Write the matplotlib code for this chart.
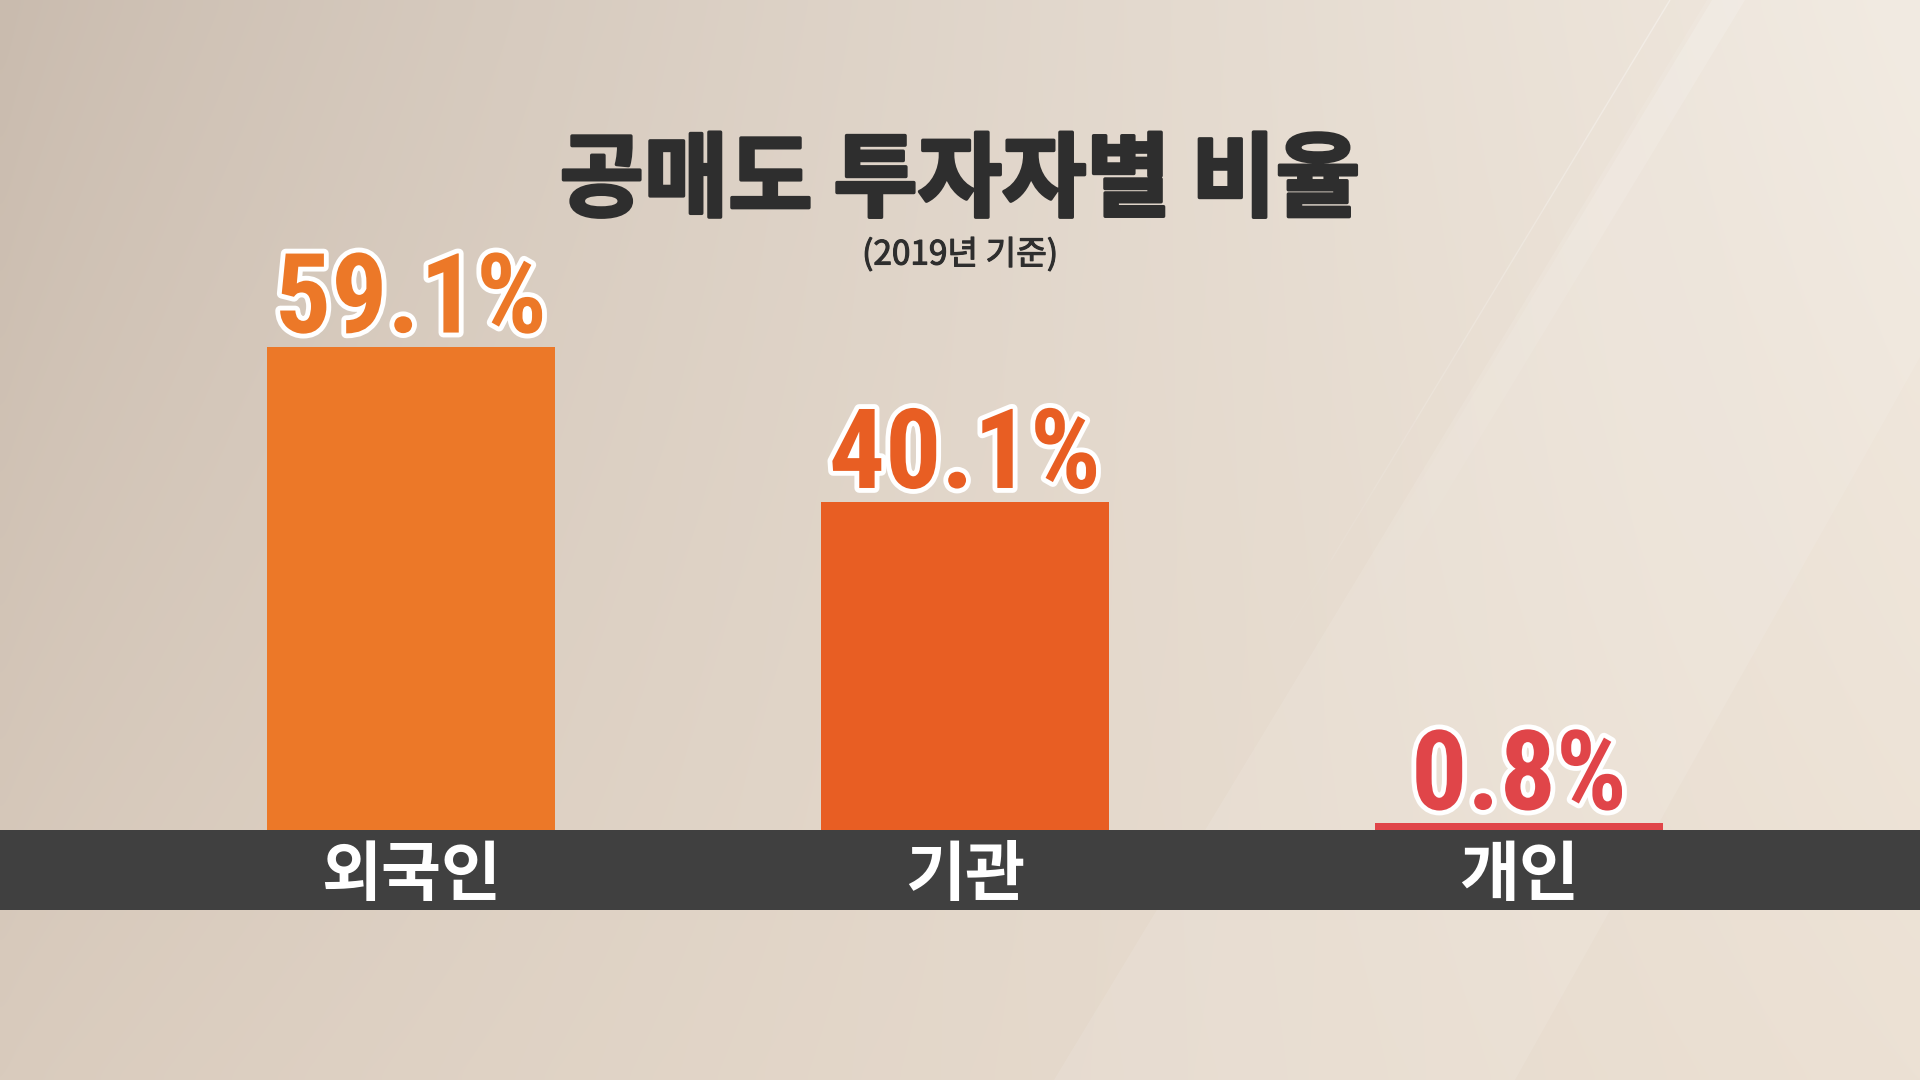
import numpy as np
import matplotlib
matplotlib.use("Agg")
import matplotlib.pyplot as plt
from matplotlib import font_manager
from matplotlib.patches import Polygon, Rectangle
import matplotlib.patheffects as pe

# ---- data ----
categories = ["외국인", "기관", "개인"]
shares = [59.1, 40.1, 0.8]
value_labels = ["59.1%", "40.1%", "0.8%"]
title_text = "공매도 투자자별 비율"
subtitle_text = "(2019년 기준)"

# ---- style ----
bar_colors = ["#EC7828", "#E85E23", "#E04549"]
band_color = "#404040"
title_color = "#2E2E2E"

W, H = 1920, 1080
plt.rcParams["font.family"] = ["Noto Sans CJK KR", "DejaVu Sans"]

available = {f.name for f in font_manager.fontManager.ttflist}
num_family = next((n for n in ["Roboto Condensed", "Liberation Sans Narrow"]
                   if n in available), "Noto Sans CJK KR")

fig = plt.figure(figsize=(W / 100, H / 100), dpi=100)

# ---- background: warm gradient with light diagonal streaks ----
bg = fig.add_axes([0, 0, 1, 1])
bg.set_xlim(0, W)
bg.set_ylim(H, 0)
bg.axis("off")

tl = np.array([201, 187, 174]) / 255
bl = np.array([217, 203, 189]) / 255
tr = np.array([241, 233, 223]) / 255
br = np.array([236, 225, 212]) / 255
gx = np.linspace(0, 1, 192)[None, :, None]
gy = np.linspace(0, 1, 108)[:, None, None]
gx_eased = gx ** 0.8
grad = (tl * (1 - gx_eased) * (1 - gy) + tr * gx_eased * (1 - gy)
        + bl * (1 - gx_eased) * gy + br * gx_eased * gy)
bg.imshow(grad, extent=(0, W, H, 0), aspect="auto", interpolation="bicubic", zorder=0)

# broad light wedge on the right
wedge = Polygon([(1707, 0), (W, 0), (W, 357), (1515, H), (1054, H)],
                closed=True, facecolor="white", alpha=0.10, edgecolor="none", zorder=1)
bg.add_patch(wedge)

# soft bright streak, fading as it runs down-left
slope = -0.605
for i, a in enumerate(np.linspace(0.16, 0.0, 12)):
    y0, y1 = i * 60, (i + 1) * 60
    pts = [(1712 + slope * y0, y0), (1745 + slope * y0, y0),
           (1745 + slope * y1, y1), (1712 + slope * y1, y1)]
    bg.add_patch(Polygon(pts, closed=True, facecolor="white", alpha=a,
                         edgecolor="none", zorder=1))

# thin highlight line
for i, a in enumerate(np.linspace(0.35, 0.0, 10)):
    y0, y1 = i * 70, (i + 1) * 70
    bg.plot([1670 + slope * y0, 1670 + slope * y1], [y0, y1],
            color="white", alpha=a, lw=1.0, zorder=1, solid_capstyle="butt")

# dark category band
bg.add_patch(Rectangle((0, 830), W, 80, facecolor=band_color, edgecolor="none", zorder=2))

# ---- titles ----
fig.text(0.5, 1 - 182 / H, title_text, ha="center", va="center",
         fontsize=66, fontweight="black", color=title_color,
         path_effects=[pe.withStroke(linewidth=2.5, foreground=title_color)])
fig.text(0.5, 1 - 255 / H, subtitle_text, ha="center", va="center",
         fontsize=24, fontweight="medium", color=title_color,
         path_effects=[pe.withStroke(linewidth=0.8, foreground=title_color)])

# ---- bars ----
px_per_unit = 8.18
ax = fig.add_axes([0, 250 / H, 1, 830 / H])
ax.patch.set_alpha(0)
x = np.arange(len(categories))
spacing = 554
ax.set_xlim(-411 / spacing, (W - 411) / spacing)
ax.set_ylim(0, 830 / px_per_unit)
ax.bar(x, shares, width=288 / spacing, color=bar_colors, zorder=3)
ax.axis("off")

for xi, v, lab, col in zip(x, shares, value_labels, bar_colors):
    ax.annotate(lab, xy=(xi, v), xytext=(0, 14), textcoords="offset pixels",
                ha="center", va="baseline", fontsize=80, fontweight="bold",
                family=[num_family, "DejaVu Sans"], color=col, zorder=4,
                path_effects=[pe.withStroke(linewidth=7, foreground="white")])

for xi, cat in zip(x, categories):
    ax.annotate(cat, xy=(xi, 0), xytext=(0, -12), textcoords="offset pixels",
                ha="center", va="top", fontsize=47, fontweight="bold",
                color="white", annotation_clip=False, zorder=4)

fig.savefig("out.png", dpi=100)
